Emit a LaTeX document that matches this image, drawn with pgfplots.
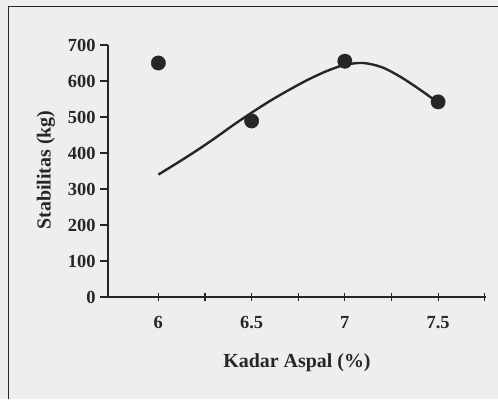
\documentclass[border=0pt]{standalone}
\usepackage{pgfplots}
\pgfplotsset{compat=1.18}
\usepackage{fontspec}
\setmainfont{Liberation Serif}
\definecolor{bg}{HTML}{EEEEEE}
\definecolor{ink}{HTML}{262626}
\begin{document}
\begin{tikzpicture}[x=1bp,y=1bp]
\useasboundingbox (0,0) rectangle (498,399);
\fill[bg] (0,0) rectangle (498,399);
\draw[ink,line width=1.6bp] (498,392.5) -- (8.5,392.5) -- (8.5,0);
\begin{axis}[
  at={(108bp,102bp)}, anchor=south west,
  scale only axis, width=378bp, height=252bp,
  xmin=5.73, xmax=7.757, ymin=0, ymax=700,
  axis x line=bottom, axis y line=left,
  axis line style={ink,line width=1.5bp,-},
  xtick={6,6.5,7,7.5}, minor xtick={6.25,6.75,7.25,7.75},
  ytick={0,100,...,700},
  x tick style={ink,line width=1.1bp}, y tick style={ink,line width=1.1bp},
  xtick align=center, ytick align=outside,
  major tick length=8bp, minor tick length=8bp,
  xticklabels={6,6.5,7,7.5},
  /pgf/number format/assume math mode=true,
  tick label style={font=\bfseries\fontsize{18.5}{20}\selectfont, text=ink},
  xticklabel style={yshift=-12bp},
  yticklabel style={xshift=-1bp},
  xlabel={Kadar Aspal (\%)}, ylabel={Stabilitas (kg)},
  label style={font=\bfseries\fontsize{20}{22}\selectfont, text=ink},
  xlabel style={at={(axis description cs:0.5,-0.262)}, anchor=center},
  ylabel style={at={(axis description cs:-0.164,0.504)}, anchor=center},
  clip=false,
]
\addplot[ink, line width=2.4bp, smooth] coordinates {
  (6,340) (6.1,372) (6.2,405) (6.3,440) (6.4,477) (6.5,512) (6.6,545)
  (6.7,575) (6.8,603) (6.9,627) (7.0,645) (7.1,650) (7.2,638)
  (7.3,611) (7.4,577) (7.5,540)
};
\addplot[only marks, mark=*, mark size=7.2bp, mark options={fill=ink, draw=ink}] coordinates {
  (6,650) (6.5,489) (7,655) (7.5,542)
};
\end{axis}
\end{tikzpicture}
\end{document}
